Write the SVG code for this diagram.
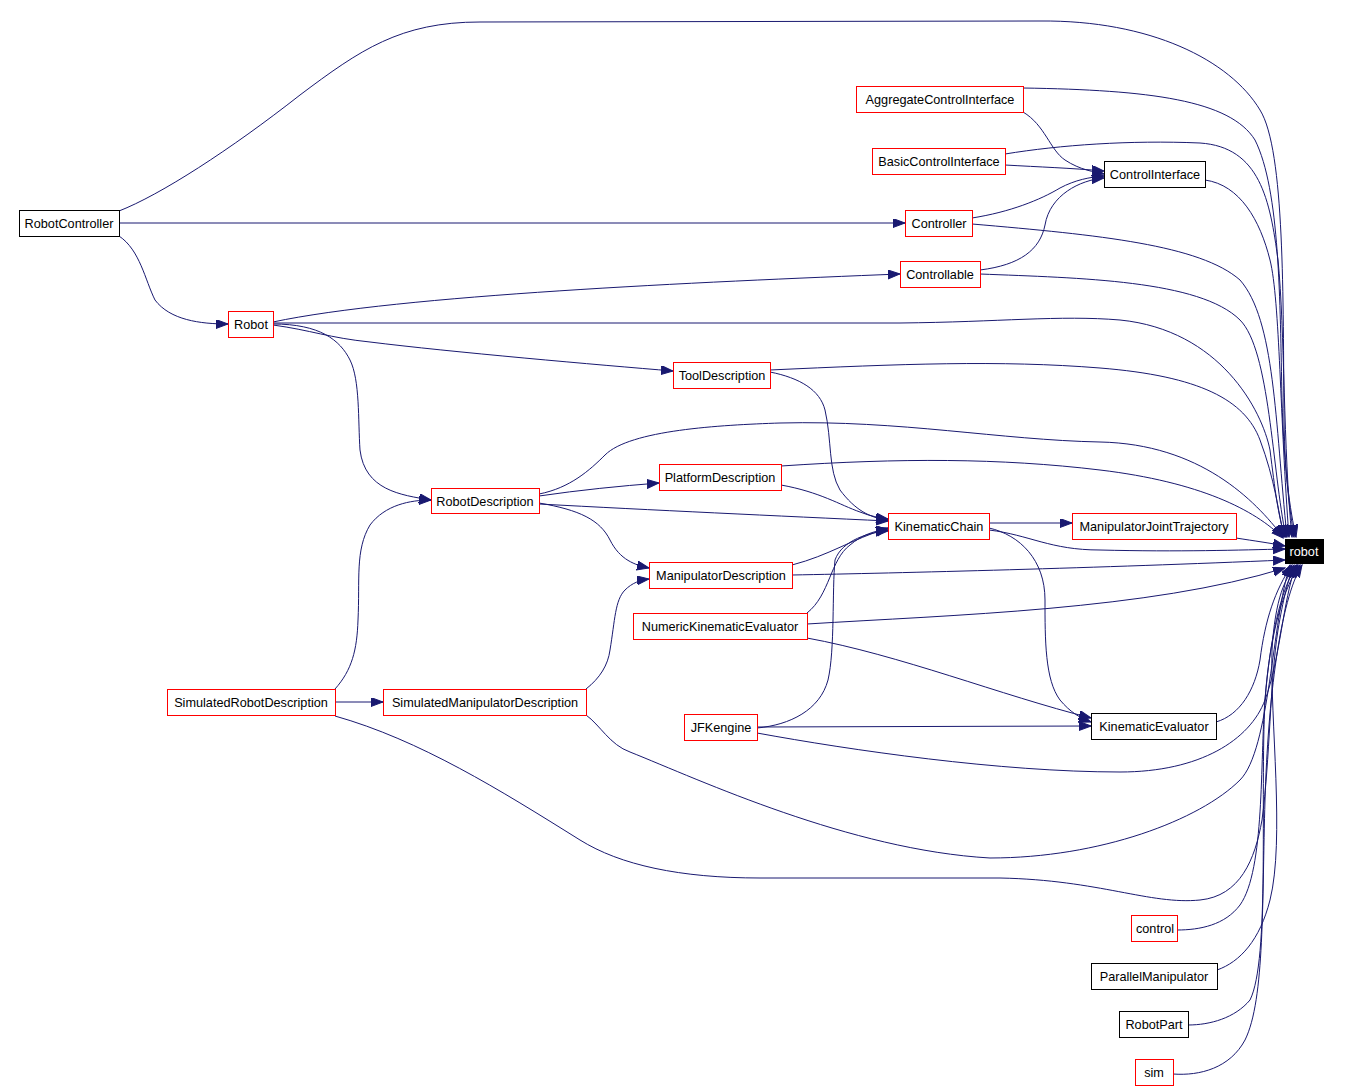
<svg xmlns="http://www.w3.org/2000/svg" width="1364" height="1090" viewBox="0 0 1364 1090">
<style>
.n rect{fill:#fff;stroke-width:1}
.r rect{stroke:#ff0000}
.b rect{stroke:#000}
.n text{font-family:"Liberation Sans",Arial,sans-serif;font-size:12.7px;fill:#000;text-anchor:middle}
#robot rect{fill:#000;stroke:#000}
#robot text{fill:#fff}
#edges path{fill:none;stroke:#191970;stroke-width:1;marker-end:url(#ah)}
</style>
<defs>
<marker id="ah" markerUnits="userSpaceOnUse" markerWidth="13" markerHeight="10" refX="12" refY="4.5" orient="auto">
<path d="M0,0 L12,4.5 L0,9 z" fill="#191970" stroke="#191970"/>
</marker>
</defs>
<rect width="1364" height="1090" fill="#fff"/>
<g id="edges">
<path d="M119,211 C160,195 230,150 300,95 C360,50 400,22 480,22 L1040,21 C1150,20 1230,60 1260,110 C1285,150 1283,300 1284,420 C1285,480 1290,510 1294,537"/>
<path d="M119,223 L905,223"/>
<path d="M119,236 C140,250 145,280 155,300 C170,320 200,324 228,324"/>
<path d="M1023,88 C1150,90 1230,100 1255,140 C1280,190 1280,300 1282,400 C1284,470 1290,510 1296,537"/>
<path d="M1023,112 C1045,125 1050,150 1065,160 C1080,170 1095,172 1104,174"/>
<path d="M1005,154 C1060,145 1130,140 1200,143 C1260,147 1270,200 1278,260 C1285,330 1283,450 1292,537"/>
<path d="M1005,165 C1040,167 1070,168 1104,171"/>
<path d="M1205,180 C1240,185 1260,220 1270,260 C1280,300 1280,420 1289,537"/>
<path d="M972,218 C1010,212 1040,200 1060,188 C1075,180 1090,177 1104,176"/>
<path d="M972,224 C1100,235 1200,245 1240,280 C1275,320 1275,420 1287,537"/>
<path d="M980,270 C1020,265 1040,250 1045,225 C1050,195 1080,180 1104,178"/>
<path d="M980,274 C1080,278 1200,280 1240,320 C1270,350 1272,470 1286,537"/>
<path d="M273,322 C400,295 700,282 900,274"/>
<path d="M273,323 L900,323 C1000,322 1060,315 1120,320 C1220,330 1262,410 1270,450 C1275,490 1278,515 1285,537"/>
<path d="M273,325 C310,330 330,338 370,342 C450,352 600,365 673,371"/>
<path d="M273,324 C320,324 340,340 350,360 C360,380 358,420 360,450 C365,490 400,495 431,500"/>
<path d="M770,370 C900,364 1000,360 1100,368 C1200,376 1245,400 1260,440 C1275,480 1278,510 1284,537"/>
<path d="M770,372 C800,378 820,390 825,410 C832,440 828,470 840,490 C855,510 870,518 888,520"/>
<path d="M539,494 C570,488 590,470 605,455 C630,430 720,425 780,423 C900,420 1000,440 1100,442 C1200,444 1255,500 1283,537"/>
<path d="M539,496 C580,490 620,486 659,483"/>
<path d="M539,504 C650,510 780,516 888,521"/>
<path d="M539,503 C580,510 600,520 610,540 C620,560 635,565 649,568"/>
<path d="M781,466 C900,458 1000,458 1100,470 C1200,482 1255,510 1283,538"/>
<path d="M781,485 C820,492 840,505 860,512 C870,516 880,518 888,519"/>
<path d="M989,523 L1072,523"/>
<path d="M989,530 C1030,535 1050,550 1100,550 C1180,552 1240,550 1285,549"/>
<path d="M989,528 C1020,535 1045,560 1045,600 C1045,640 1045,680 1060,700 C1070,712 1080,718 1091,722"/>
<path d="M1236,538 C1255,541 1270,543 1285,546"/>
<path d="M792,565 C830,555 850,540 888,528"/>
<path d="M792,575 C900,573 1100,568 1285,560"/>
<path d="M807,624 C950,615 1150,610 1285,568"/>
<path d="M807,613 C830,595 830,560 850,545 C862,535 875,530 888,530"/>
<path d="M807,638 C900,655 1000,695 1091,718"/>
<path d="M335,689 C352,670 357,650 358,620 C360,580 355,550 370,525 C385,505 410,500 431,500"/>
<path d="M335,702 L383,702"/>
<path d="M335,716 C420,740 500,790 580,840 C620,865 680,878 760,878 L1000,878 C1100,880 1150,905 1200,900 C1240,896 1255,860 1262,820 C1270,760 1270,680 1278,630 C1283,600 1288,580 1294,565"/>
<path d="M586,689 C600,678 608,665 610,650 C615,620 615,600 625,590 C632,583 640,580 649,579"/>
<path d="M586,715 C600,725 610,745 630,752 C700,780 850,850 990,858 C1100,858 1200,820 1240,780 C1270,750 1272,620 1290,565"/>
<path d="M757,728 C790,725 820,710 828,680 C835,650 832,590 835,560 C842,540 870,532 888,531"/>
<path d="M757,727 L1091,726"/>
<path d="M757,733 C850,750 1000,772 1120,772 C1200,772 1250,740 1265,700 C1280,660 1283,600 1296,565"/>
<path d="M1216,722 C1240,715 1255,690 1260,660 C1265,620 1275,590 1292,565"/>
<path d="M1177,930 C1200,930 1225,925 1240,905 C1265,870 1260,760 1265,700 C1270,640 1280,590 1297,565"/>
<path d="M1217,970 C1240,962 1260,940 1270,900 C1285,840 1270,720 1272,650 C1275,600 1285,575 1298,565"/>
<path d="M1188,1025 C1210,1025 1235,1018 1250,1000 C1270,960 1260,800 1265,700 C1270,630 1285,585 1300,565"/>
<path d="M1173,1074 C1200,1076 1230,1068 1245,1040 C1265,1000 1262,900 1265,800 C1268,700 1280,600 1302,565"/>
</g>
<g id="RobotController" class="n b"><rect x="19.5" y="210.5" width="100" height="26"/><text x="69" y="228">RobotController</text></g>
<g id="Robot" class="n r"><rect x="228.5" y="311.5" width="45" height="26"/><text x="251" y="329">Robot</text></g>
<g id="AggregateControlInterface" class="n r"><rect x="856.5" y="86.5" width="167" height="26"/><text x="940" y="104">AggregateControlInterface</text></g>
<g id="BasicControlInterface" class="n r"><rect x="872.5" y="148.5" width="133" height="26"/><text x="939" y="166">BasicControlInterface</text></g>
<g id="ControlInterface" class="n b"><rect x="1104.5" y="161.5" width="101" height="26"/><text x="1155" y="179">ControlInterface</text></g>
<g id="Controller" class="n r"><rect x="905.5" y="210.5" width="67" height="26"/><text x="939" y="228">Controller</text></g>
<g id="Controllable" class="n r"><rect x="900.5" y="261.5" width="80" height="26"/><text x="940" y="279">Controllable</text></g>
<g id="ToolDescription" class="n r"><rect x="673.5" y="362.5" width="97" height="26"/><text x="722" y="380">ToolDescription</text></g>
<g id="PlatformDescription" class="n r"><rect x="659.5" y="464.5" width="122" height="26"/><text x="720" y="482">PlatformDescription</text></g>
<g id="RobotDescription" class="n r"><rect x="431.5" y="488.5" width="108" height="25"/><text x="485" y="506">RobotDescription</text></g>
<g id="KinematicChain" class="n r"><rect x="888.5" y="513.5" width="101" height="26"/><text x="939" y="531">KinematicChain</text></g>
<g id="ManipulatorJointTrajectory" class="n r"><rect x="1072.5" y="513.5" width="164" height="26"/><text x="1154" y="531">ManipulatorJointTrajectory</text></g>
<g id="robot" class="n"><rect x="1285.5" y="539.5" width="38" height="24"/><text x="1304" y="556">robot</text></g>
<g id="ManipulatorDescription" class="n r"><rect x="649.5" y="562.5" width="143" height="26"/><text x="721" y="580">ManipulatorDescription</text></g>
<g id="NumericKinematicEvaluator" class="n r"><rect x="633.5" y="613.5" width="174" height="26"/><text x="720" y="631">NumericKinematicEvaluator</text></g>
<g id="SimulatedRobotDescription" class="n r"><rect x="167.5" y="689.5" width="168" height="26"/><text x="251" y="707">SimulatedRobotDescription</text></g>
<g id="SimulatedManipulatorDescription" class="n r"><rect x="383.5" y="689.5" width="203" height="26"/><text x="485" y="707">SimulatedManipulatorDescription</text></g>
<g id="JFKengine" class="n r"><rect x="684.5" y="714.5" width="73" height="26"/><text x="721" y="732">JFKengine</text></g>
<g id="KinematicEvaluator" class="n b"><rect x="1091.5" y="713.5" width="125" height="26"/><text x="1154" y="731">KinematicEvaluator</text></g>
<g id="control" class="n r"><rect x="1131.5" y="915.5" width="46" height="26"/><text x="1155" y="933">control</text></g>
<g id="ParallelManipulator" class="n b"><rect x="1091.5" y="963.5" width="126" height="26"/><text x="1154" y="981">ParallelManipulator</text></g>
<g id="RobotPart" class="n b"><rect x="1119.5" y="1011.5" width="69" height="26"/><text x="1154" y="1029">RobotPart</text></g>
<g id="sim" class="n r"><rect x="1135.5" y="1059.5" width="38" height="26"/><text x="1154" y="1077">sim</text></g>
</svg>
